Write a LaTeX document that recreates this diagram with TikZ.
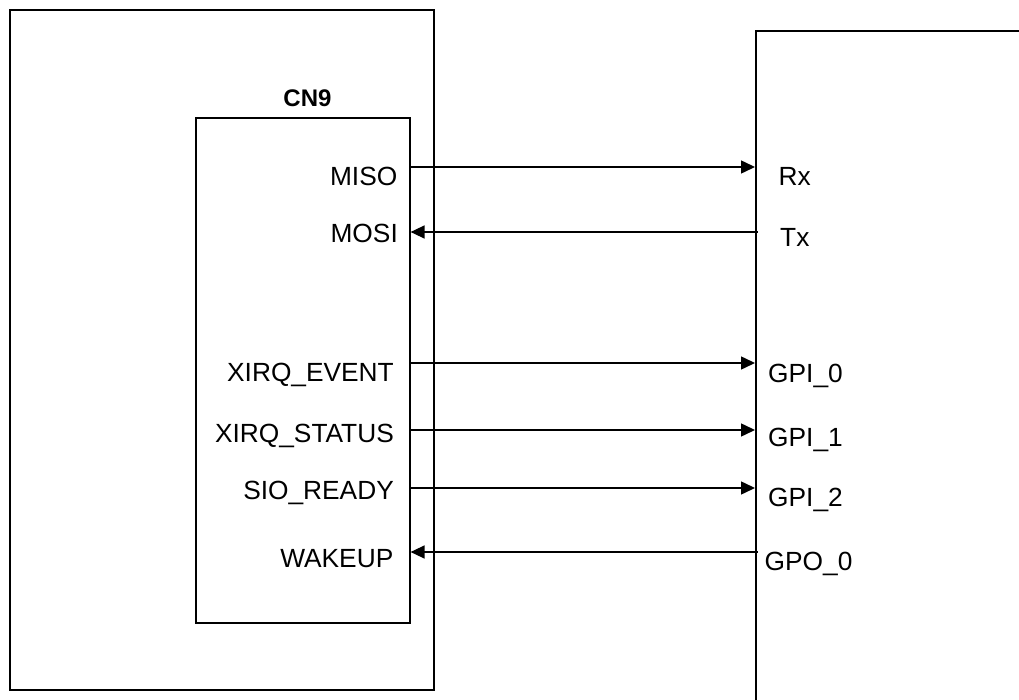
\documentclass[tikz,border=0pt]{standalone}
\usepackage{fontspec}
\setmainfont{Liberation Sans}
\usetikzlibrary{arrows.meta}
\begin{document}
\begin{tikzpicture}[x=1pt,y=-1pt,
  box/.style={draw=black,line width=1.6pt,rectangle,inner sep=0pt,anchor=north west},
  sig/.style={draw=black,line width=1.5pt},
  tip/.style={-{Triangle[length=14pt,width=13pt]}},
  pinl/.style={anchor=base east,inner sep=0pt,font=\fontsize{26.3}{30}\selectfont},
  pinr/.style={anchor=base west,inner sep=0pt,font=\fontsize{26.3}{30}\selectfont},
  title/.style={anchor=base,inner sep=0pt,font=\fontsize{24}{28}\selectfont\bfseries}]
\useasboundingbox (0,0) rectangle (1019,700);
\clip (0,0) rectangle (1019,700);
\fill[white] (0,0) rectangle (1019,700);

% boards
\node[box,minimum width=424pt,minimum height=680pt] (host) at (9,9) {};
\node[box,minimum width=214pt,minimum height=505pt] (cn) at (195,117) {};
\node[box,minimum width=290pt,minimum height=690pt] (dev) at (755,30) {};
\node[title] (cnlabel) at (307.5,107) {CN9};

% connector pins
\node[pinl] (miso) at (397.5,186) {MISO};
\node[pinl] (mosi) at (398,243) {MOSI};
\node[pinl] (xev) at (394,381) {XIRQ\_EVENT};
\node[pinl] (xst) at (394,442) {XIRQ\_STATUS};
\node[pinl] (sio) at (394,499) {SIO\_READY};
\node[pinl] (wak) at (393.5,567) {WAKEUP};

% device pins
\node[pinr] (rx) at (778.5,186) {Rx};
\node[pinr] (tx) at (780,247) {Tx};
\node[pinr] (g0) at (768,382) {GPI\_0};
\node[pinr] (g1) at (768,446) {GPI\_1};
\node[pinr] (g2) at (768,506) {GPI\_2};
\node[pinr] (go) at (764.5,570) {GPO\_0};

% signal lines
\draw[sig,tip] (cn.east |- 0,167) -- (dev.west |- 0,167);
\draw[sig,tip] (dev.west |- 0,232) ++(2.5,0) -- (cn.east |- 0,232);
\draw[sig,tip] (cn.east |- 0,363) -- (dev.west |- 0,363);
\draw[sig,tip] (cn.east |- 0,430) -- (dev.west |- 0,430);
\draw[sig,tip] (cn.east |- 0,488) -- (dev.west |- 0,488);
\draw[sig,tip] (dev.west |- 0,552) ++(2.5,0) -- (cn.east |- 0,552);
\end{tikzpicture}
\end{document}
